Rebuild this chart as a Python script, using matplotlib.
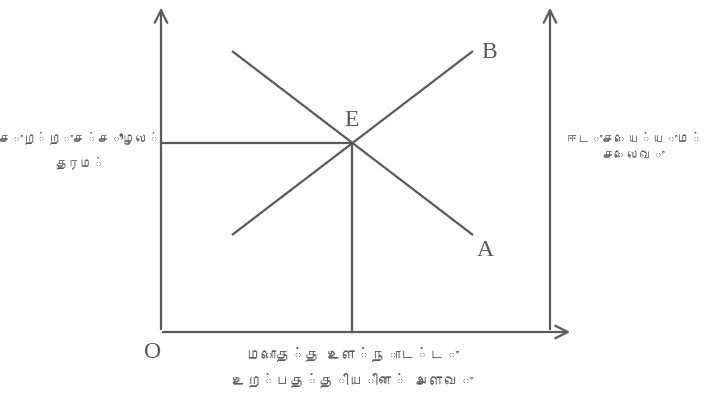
import matplotlib
matplotlib.use("Agg")
import matplotlib.pyplot as plt
from matplotlib import font_manager

# ---- find a font that covers Tamil, if any ----
def find_tamil_font():
    try:
        from fontTools.ttLib import TTFont
    except Exception:
        return None
    for f in font_manager.findSystemFonts():
        try:
            tt = TTFont(f, fontNumber=0, lazy=True)
            cmap = tt.getBestCmap()
            if cmap and 0x0BA4 in cmap and 0x0BAE in cmap:
                return font_manager.FontProperties(fname=f).get_name()
        except Exception:
            continue
    return None

tamil = find_tamil_font()
fam = ([tamil] if tamil else []) + ["Noto Sans", "DejaVu Sans"]

# ---- data (diagram coordinates, origin O at bottom-left) ----
line_A_x = [71, 312]     # downward-sloping line ending at A
line_A_y = [281, 97]
line_B_x = [71, 312]     # upward-sloping line ending at B
line_B_y = [97, 281]
E_point = (191, 189)
label_y = "சுற்றுச்சூழல்\nதரம்"
label_right = "ஈடுசெய்யும்\nசெலவு"
label_x = "மொத்த உள்நாட்டு\nஉற்பத்தியின் அளவு"

# ---- figure ----
W, H = 706, 412
ox, oy = 161, 332  # pixel of origin
fig = plt.figure(figsize=(W / 100, H / 100), dpi=100)
ax = fig.add_axes([0, 0, 1, 1])
ax.set_xlim(-ox, W - ox)
ax.set_ylim(oy - H, oy)
ax.axis("off")

col = "#5a5a5a"
lw = 1.6
arrow = dict(arrowstyle="->,head_length=0.9,head_width=0.45", color=col, lw=lw)

# axes
ax.annotate("", xy=(0, 327), xytext=(0, 0), arrowprops=arrow)
ax.annotate("", xy=(389, 327), xytext=(389, 0), arrowprops=arrow)
ax.annotate("", xy=(412, 0), xytext=(-1, 0), arrowprops=arrow)

# curves
ax.plot(line_A_x, line_A_y, color=col, lw=lw, solid_capstyle="butt")
ax.plot(line_B_x, line_B_y, color=col, lw=lw, solid_capstyle="butt")

# guides from E
ex, ey = E_point
ax.plot([0, ex], [ey, ey], color=col, lw=lw)
ax.plot([ex, ex], [0, ey], color=col, lw=lw)

# letter labels
lf = ["Liberation Serif", "DejaVu Serif"]
ax.text(ex, ey + 23, "E", fontsize=17, family=lf, color=col, ha="center", va="center")
ax.text(line_B_x[1] + 16, line_B_y[1] - 1, "B", fontsize=17, family=lf, color=col, ha="center", va="center")
ax.text(line_A_x[1] + 12, line_A_y[1] - 15, "A", fontsize=17, family=lf, color=col, ha="center", va="center")
ax.text(-8, -21, "O", fontsize=17, family=lf, color=col, ha="center", va="center")

# Tamil labels
ax.text(80 - ox, oy - 150, label_y, fontsize=9, family=fam, color=col,
        ha="center", va="center", linespacing=2.1)
ax.text(634 - ox, oy - 147, label_right, fontsize=9, family=fam, color=col,
        ha="center", va="center", linespacing=2.0)
ax.text(353 - ox, oy - 368, label_x, fontsize=10.5, family=fam, color=col,
        ha="center", va="center", linespacing=1.9)

fig.savefig("out.png", dpi=100, facecolor="white")
